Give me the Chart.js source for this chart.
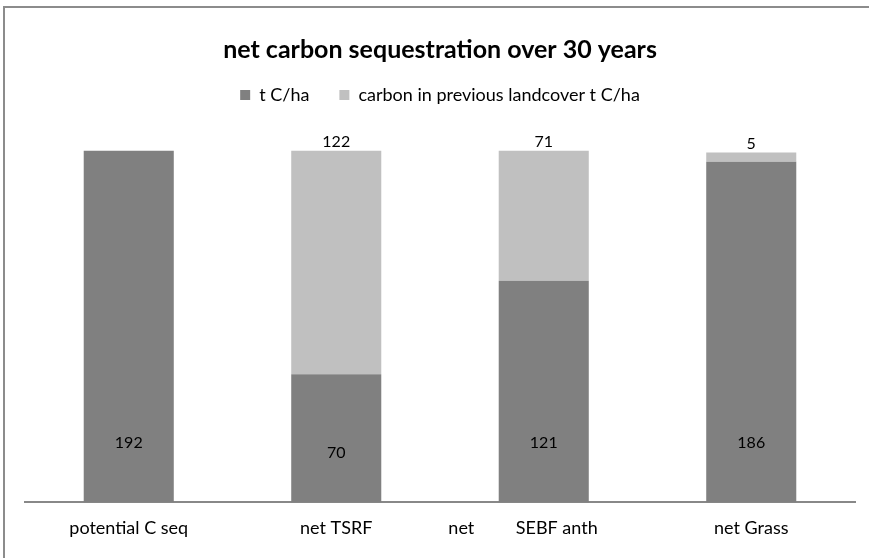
<!DOCTYPE html>
<html>
<head>
<meta charset="utf-8">
<script src="https://cdn.jsdelivr.net/npm/chart.js@4"></script>
<style>
  html, body { margin: 0; padding: 0; background: #fff; }
  #wrap { position: relative; width: 869px; height: 558px; }
</style>
</head>
<body>
<div id="wrap"><canvas id="bar-chart" width="869" height="558"></canvas></div>
<script>
// datos del grafico
const categorias = ["potential C seq", "net TSRF", "net         SEBF anth         ", "net Grass"];
const netCarbon = [192, 70, 121, 186];
const previousCarbon = [0, 122, 71, 5];
const previousLabels = ["", "122", "71", "5"];

const fuente = "Lato, 'Open Sans', sans-serif";

// marco exterior (solo lado izquierdo y superior visibles)
const marco = {
  id: "marco",
  beforeDraw(chart) {
    const ctx = chart.ctx;
    ctx.save();
    ctx.fillStyle = "#8c8c8c";
    ctx.fillRect(3, 6, 2, chart.height - 6);
    ctx.fillRect(3, 6, chart.width - 3, 2);
    ctx.restore();
  },
};

// etiquetas de valores
const etiquetas = {
  id: "etiquetas",
  afterDatasetsDraw(chart) {
    const ctx = chart.ctx;
    ctx.save();
    ctx.font = "16px " + fuente;
    ctx.fillStyle = "#000";
    ctx.textAlign = "center";
    ctx.textBaseline = "middle";
    const base = chart.scales.y.getPixelForValue(0);
    chart.getDatasetMeta(0).data.forEach((bar, i) => {
      const y = Math.max(base - 60, (bar.y + base) / 2 + 15);
      ctx.fillText(String(netCarbon[i]), bar.x, y);
    });
    chart.getDatasetMeta(1).data.forEach((bar, i) => {
      if (!previousLabels[i]) return;
      ctx.fillText(previousLabels[i], bar.x, bar.y - 9);
    });
    ctx.restore();
  },
};

const contenedor = document.querySelector("#bar-chart").getContext("2d");

const barChart = new Chart(contenedor, {
  type: "bar",
  data: {
    labels: categorias,
    datasets: [
      {
        label: "t C/ha",
        data: netCarbon,
        backgroundColor: "#808080",
        borderWidth: 0,
      },
      {
        label: "carbon in previous landcover t C/ha",
        data: previousCarbon,
        backgroundColor: "#c0c0c0",
        borderWidth: 0,
      },
    ],
  },
  options: {
    responsive: false,
    animation: false,
    devicePixelRatio: 1,
    layout: { padding: { left: 25, right: 14, top: 35, bottom: 4 } },
    datasets: { bar: { barPercentage: 0.434, categoryPercentage: 1 } },
    plugins: {
      title: {
        display: true,
        text: "net carbon sequestration over 30 years",
        color: "#000",
        font: { family: fuente, size: 25, weight: "bold" },
        padding: { top: 0, bottom: -9 },
      },
      legend: {
        display: true,
        labels: {
          color: "#000",
          font: { family: fuente, size: 18 },
          boxWidth: 10,
          boxHeight: 10,
          padding: 30,
        },
      },
      tooltip: { enabled: false },
    },
    scales: {
      x: {
        stacked: true,
        grid: { display: false, drawTicks: false },
        border: { display: true, color: "#888", width: 2 },
        ticks: { color: "#000", font: { family: fuente, size: 18 }, padding: 15, maxRotation: 0 },
      },
      y: {
        stacked: true,
        display: false,
        min: 0,
        max: 212,
      },
    },
  },
  plugins: [marco, etiquetas],
});
</script>
</body>
</html>
